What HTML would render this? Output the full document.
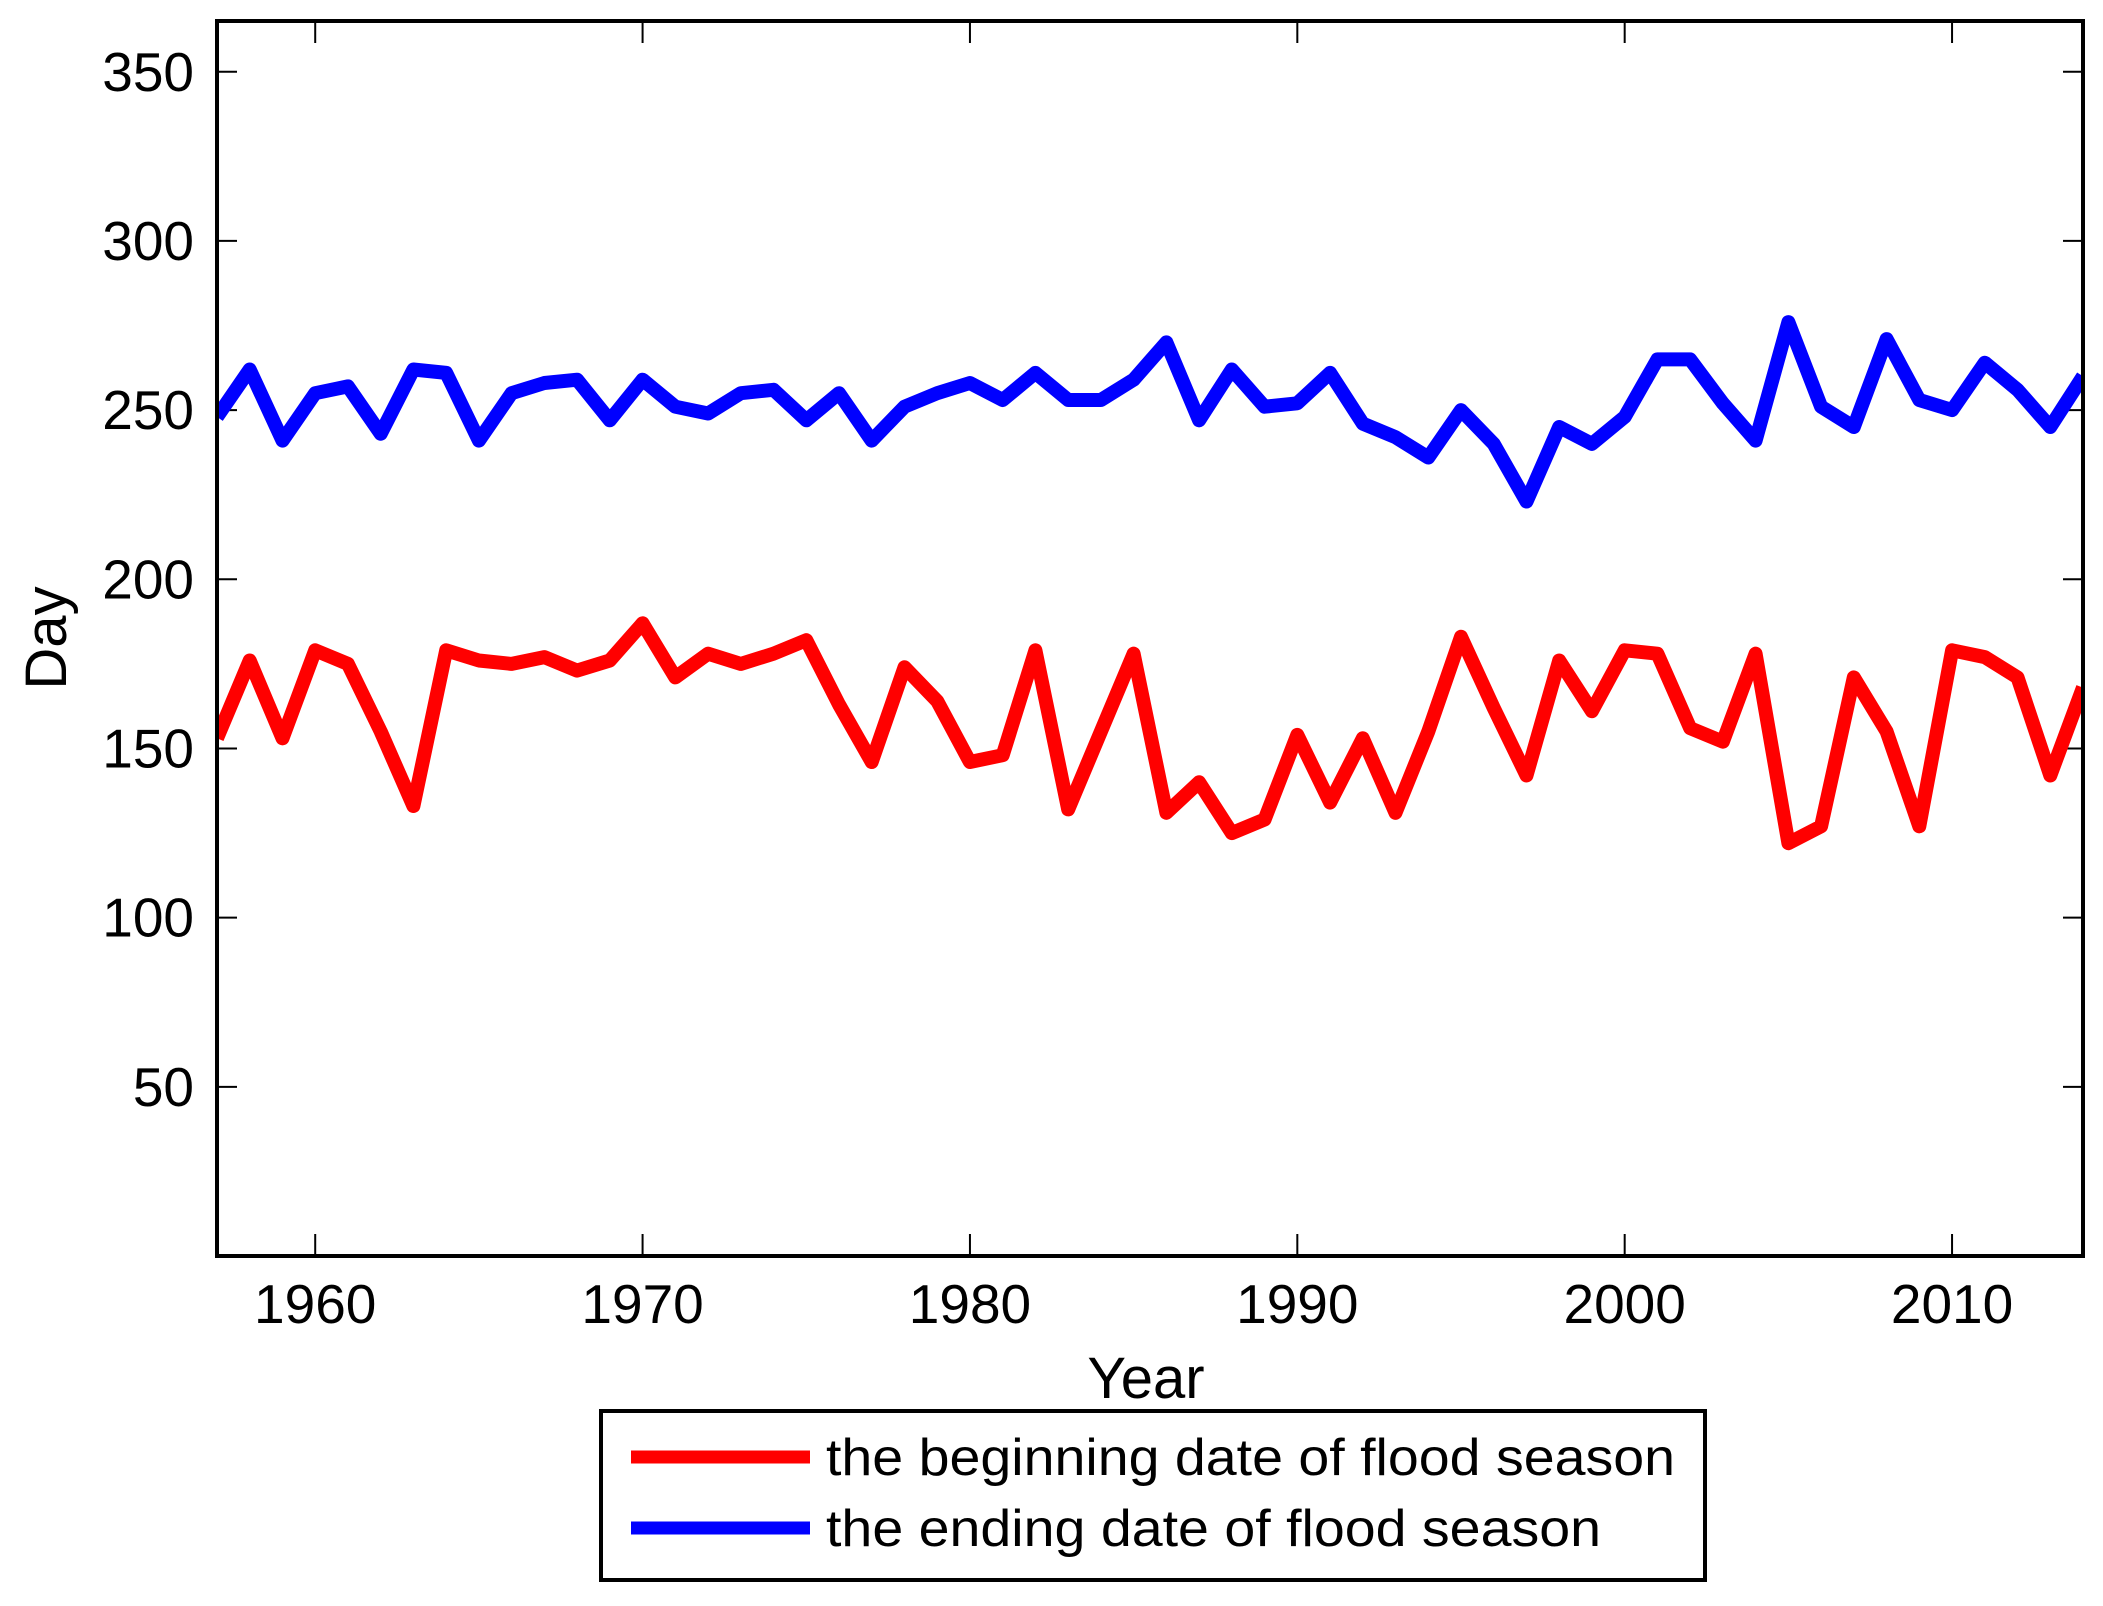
<!DOCTYPE html>
<html><head><meta charset="utf-8"><style>
html,body{margin:0;padding:0;background:#fff}
svg{display:block;font-family:"Liberation Sans",Arial,sans-serif}
</style></head><body>
<svg id="chart" width="2103" height="1606" viewBox="0 0 2103 1606" xmlns="http://www.w3.org/2000/svg">
<defs><clipPath id="plotclip"><rect x="217" y="21" width="1866" height="1235"/></clipPath></defs>
<rect x="0" y="0" width="2103" height="1606" fill="#fff"/>
<g id="ticks"></g>
<g id="series" clip-path="url(#plotclip)"></g>
<rect x="217" y="21" width="1866" height="1235" fill="none" stroke="#000" stroke-width="4"/>
<text x="1146" y="1398" font-size="58" text-anchor="middle">Year</text>
<text x="0" y="0" font-size="58" text-anchor="middle" transform="translate(66,638) rotate(-90)">Day</text>
<g>
<rect x="601" y="1411" width="1104" height="169" fill="#fff" stroke="#000" stroke-width="4"/>
<line x1="631" y1="1457" x2="810" y2="1457" stroke="#ff0000" stroke-width="13"/>
<text x="826" y="1475" font-size="52" textLength="849" lengthAdjust="spacingAndGlyphs">the beginning date of flood season</text>
<line x1="631" y1="1528" x2="810" y2="1528" stroke="#0000ff" stroke-width="13"/>
<text x="826" y="1546" font-size="52" textLength="775" lengthAdjust="spacingAndGlyphs">the ending date of flood season</text>
</g>
</svg>
<script>
const years = [];
for (let y = 1957; y <= 2014; y++) years.push(y);
const beginDays = [153,176,153,179,175,155,133,179,176,175,177,173,176,187,171,178,175,178,182,163,146,174,164,146,148,179,132,155,178,131,140,125,129,154,134,153,131,155,183,162,142,176,161,179,178,156,152,178,122,127,171,155,127,179,177,171,142,168];
const endDays = [248,262,241,255,257,243,262,261,241,255,258,259,247,259,251,249,255,256,247,255,241,251,255,258,253,261,253,253,259,270,247,262,251,252,261,246,242,236,250,240,223,245,240,248,265,265,252,241,276,251,245,271,253,250,264,256,245,260];
const xTicks = [1960,1970,1980,1990,2000,2010];
const yTicks = [50,100,150,200,250,300,350];

const X0=217, X1=2083, Y0=1256, Y1=21;
const XMIN=1957, XMAX=2014, YMIN=0, YMAX=365;
function xs(v){return X0+(v-XMIN)/(XMAX-XMIN)*(X1-X0);}
function ys(v){return Y0-(v-YMIN)/(YMAX-YMIN)*(Y0-Y1);}
const NS="http://www.w3.org/2000/svg";
const tg=document.getElementById('ticks');
const sg=document.getElementById('series');
function mk(tag,attrs,parent){const e=document.createElementNS(NS,tag);for(const k in attrs)e.setAttribute(k,attrs[k]);parent.appendChild(e);return e;}

xTicks.forEach(t=>{
  const x=xs(t);
  const a=mk('line',{x1:x,y1:Y0,x2:x,y2:Y0-22,stroke:'#000','stroke-width':2},tg);
  
  
  const b=mk('line',{x1:x,y1:Y1,x2:x,y2:Y1+22,stroke:'#000','stroke-width':2},tg);
  
  
  const l=mk('text',{x:x,y:1323,'font-size':55,'text-anchor':'middle'},tg);
  l.textContent=t;
  
  
});
yTicks.forEach(t=>{
  const y=ys(t);
  const a=mk('line',{x1:X0,y1:y,x2:X0+20,y2:y,stroke:'#000','stroke-width':2},tg);
  
  
  const b=mk('line',{x1:X1,y1:y,x2:X1-20,y2:y,stroke:'#000','stroke-width':2},tg);
  
  
  const l=mk('text',{x:194,y:y+19,'font-size':55,'text-anchor':'end'},tg);
  l.textContent=t;
  
  
});
function drawSeries(vals,color,name){
  const pts=vals.map((v,i)=>xs(years[i]).toFixed(1)+','+ys(v).toFixed(1)).join(' ');
  const p=mk('polyline',{points:pts,fill:'none',stroke:color,'stroke-width':14,'stroke-linejoin':'round'},sg);
  
  
}
drawSeries(endDays,'#0000ff','ending-date-line');
drawSeries(beginDays,'#ff0000','beginning-date-line');
</script>
</body></html>
